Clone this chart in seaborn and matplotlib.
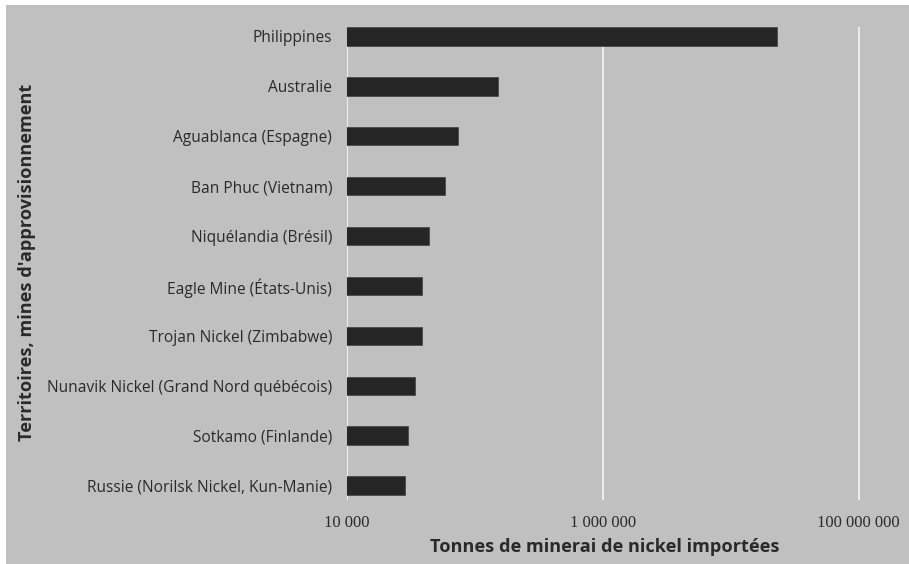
import matplotlib
matplotlib.use("Agg")
import matplotlib.pyplot as plt
from matplotlib.patches import Rectangle
from matplotlib.ticker import FixedLocator, NullLocator
import pandas as pd
import seaborn as sns

# Supply territories / mines and tonnes of nickel ore imported
sources = [
    "Philippines",
    "Australie",
    "Aguablanca (Espagne)",
    "Ban Phuc (Vietnam)",
    "Niquélandia (Brésil)",
    "Eagle Mine (États-Unis)",
    "Trojan Nickel (Zimbabwe)",
    "Nunavik Nickel (Grand Nord québécois)",
    "Sotkamo (Finlande)",
    "Russie (Norilsk Nickel, Kun-Manie)",
]
tonnes = [23000000, 152000, 73600, 58600, 43700, 38800, 38800, 34300, 30000, 28700]

x_ticks = [1e4, 1e6, 1e8]
x_tick_labels = ["10 000", "1 000 000", "100 000 000"]

df = pd.DataFrame({"source": sources, "tonnes": tonnes})

sns.set_theme(style="white")
plt.rcParams["font.family"] = ["Open Sans", "DejaVu Sans"]

W, H = 909, 564
fig = plt.figure(figsize=(W / 100, H / 100), dpi=100, facecolor="white")

# grey panel behind everything
fig.patches.append(Rectangle((6 / W, 0), 1 - 6 / W, 1 - 5 / H,
                             transform=fig.transFigure, facecolor="#c0c0c0",
                             edgecolor="none", zorder=-10))

ax_left, ax_right = 346.7, 903.5
ax_top, ax_bottom = 27.0, 500.0
ax = fig.add_axes([ax_left / W, (H - ax_bottom) / H,
                   (ax_right - ax_left) / W, (ax_bottom - ax_top) / H])
ax.set_facecolor("none")
ax.set_xscale("log")

sns.barplot(data=df, x="tonnes", y="source", orient="h", color="#262626",
            width=0.37, saturation=1, edgecolor="#4a4a4a", linewidth=0.6,
            ax=ax, zorder=3)

ax.set_xlim(1e4, 10 ** 8.35)
ax.set_ylim(9.29, -0.19)

ax.xaxis.set_major_locator(FixedLocator(x_ticks))
ax.xaxis.set_minor_locator(NullLocator())
ax.set_xticklabels(x_tick_labels, family=["Liberation Serif", "DejaVu Serif"],
                   fontsize=12, color="#2a2a2a")
ax.grid(axis="x", color="#f4f4f4", linewidth=1.3, zorder=1)
ax.grid(axis="y", visible=False)
ax.set_axisbelow(True)
for s in ax.spines.values():
    s.set_visible(False)
ax.tick_params(axis="both", length=0)
ax.tick_params(axis="y", pad=10.5, labelsize=11.2, labelcolor="#2a2a2a")
ax.tick_params(axis="x", pad=11)

ax.set_xlabel("Tonnes de minerai de nickel importées", fontsize=13.1,
              fontweight="bold", color="#2a2a2a", va="center")
ax.xaxis.set_label_coords((605 - ax_left) / (ax_right - ax_left),
                          (ax_bottom - 547) / (ax_bottom - ax_top))
ax.set_ylabel("Territoires, mines d'approvisionnement", fontsize=13.1,
              fontweight="bold", color="#2a2a2a", va="center")
ax.yaxis.set_label_coords((27 - ax_left) / (ax_right - ax_left),
                          (ax_bottom - 262) / (ax_bottom - ax_top))

fig.savefig("out.png", dpi=100, facecolor="white")
